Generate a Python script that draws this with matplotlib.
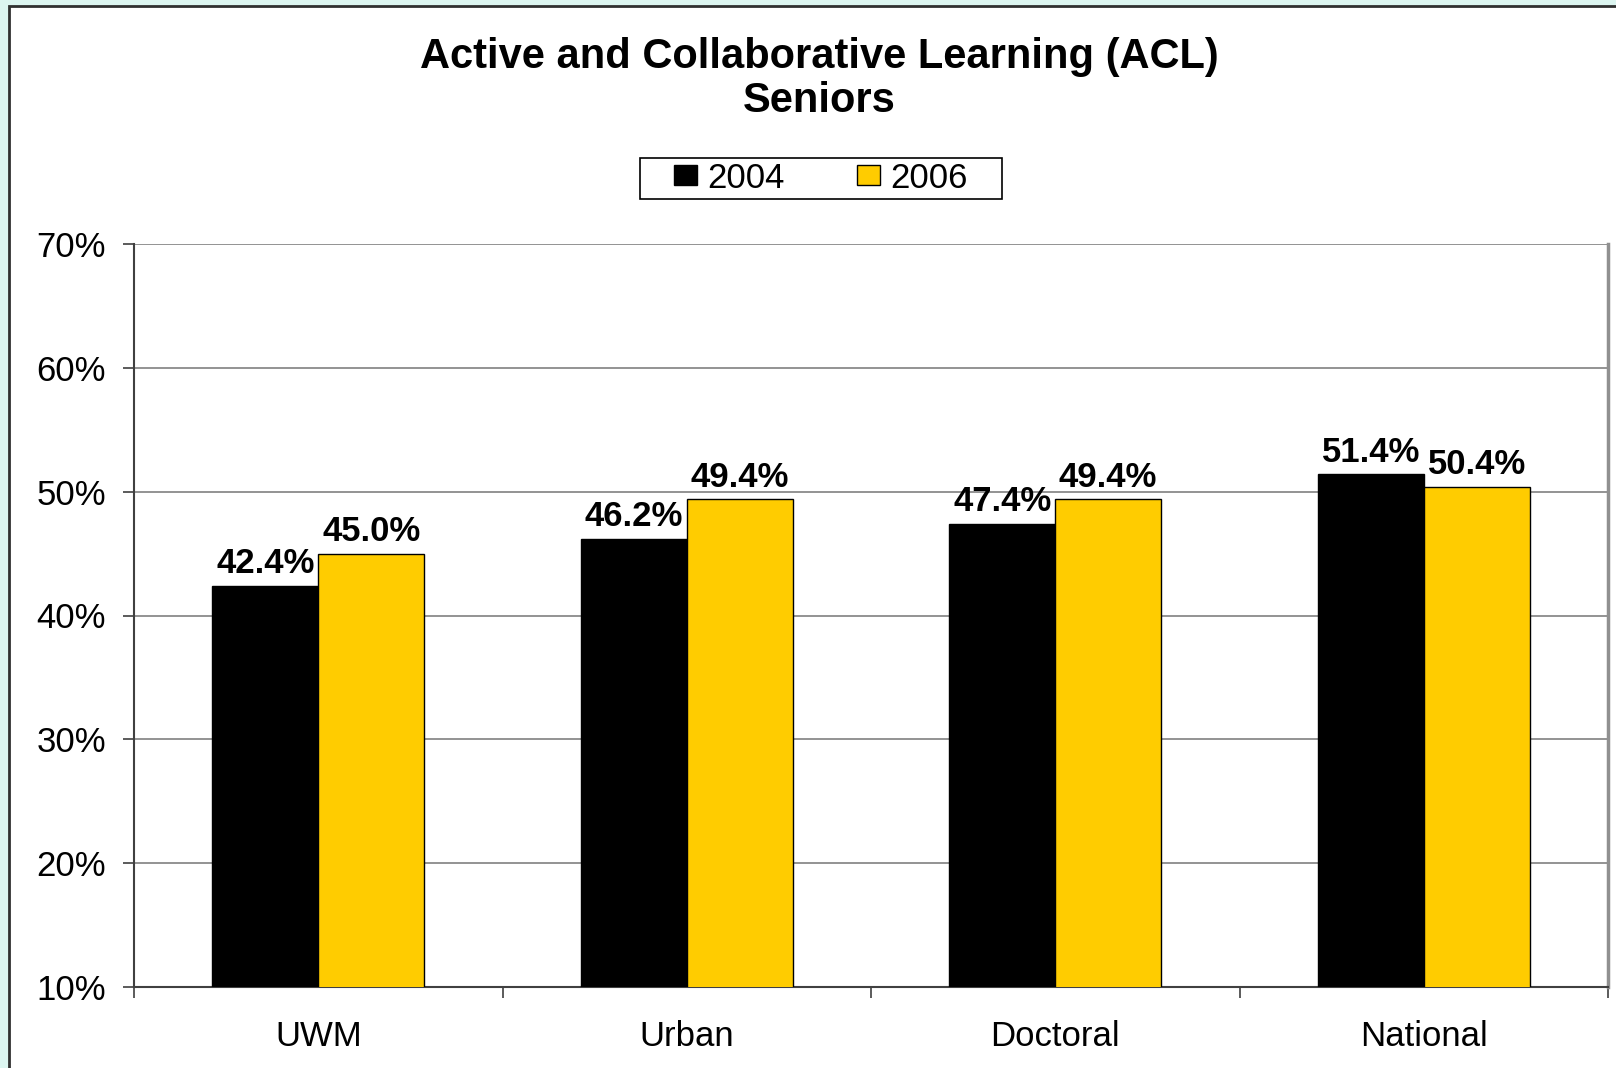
import matplotlib.pyplot as plt
import numpy as np
from matplotlib.patches import Rectangle
from matplotlib.ticker import PercentFormatter

plt.rcParams['font.family'] = ['Liberation Sans', 'DejaVu Sans']

categories = ['UWM', 'Urban', 'Doctoral', 'National']
years = ['2004', '2006']
acl_2004 = [42.4, 46.2, 47.4, 51.4]
acl_2006 = [45.0, 49.4, 49.4, 50.4]

W, H = 1616, 1068
fig = plt.figure(figsize=(W / 100, H / 100), dpi=100)
fig.patch.set_facecolor('#dcf5f0')

# white chart area with dark frame (runs off the right and bottom edges)
frame = Rectangle((9 / W, -0.1), 1.2, 0.1 + 1 - 6 / H, transform=fig.transFigure,
                  facecolor='white', edgecolor='#303030', linewidth=2, zorder=-5)
fig.patches.append(frame)

ax = fig.add_axes([134 / W, 81 / H, (1608 - 134) / W, (987 - 244) / H])
ax.set_facecolor('white')

x = np.arange(len(categories))
w = 0.287
b1 = ax.bar(x - w / 2, acl_2004, w, color='black', edgecolor='black', linewidth=1, label=years[0], zorder=3)
b2 = ax.bar(x + w / 2, acl_2006, w, color='#ffcc00', edgecolor='black', linewidth=1, label=years[1], zorder=3)

for bars, vals in ((b1, acl_2004), (b2, acl_2006)):
    for r, v in zip(bars, vals):
        ax.annotate('%.1f%%' % v, (r.get_x() + r.get_width() / 2, r.get_height()),
                    xytext=(0, 4), textcoords='offset points', ha='center', va='bottom',
                    fontsize=25, fontweight='bold', zorder=4)

ax.set_ylim(10, 70)
ax.set_xlim(-0.5, len(categories) - 0.5)
ax.set_yticks(np.arange(10, 71, 10))
ax.yaxis.set_major_formatter(PercentFormatter(decimals=0))
ax.grid(axis='y', color='#808080', linewidth=1.2, zorder=1)
ax.set_axisbelow(True)

ax.set_xticks(x)
ax.set_xticklabels(categories)
ax.set_xticks(np.arange(-0.5, len(categories)), minor=True)
ax.tick_params(axis='x', which='major', length=0, pad=24, labelsize=25)
ax.tick_params(axis='x', which='minor', length=8, width=1.2, color='#404040', direction='out')
ax.tick_params(axis='y', length=8, width=1.2, color='#404040', pad=12, labelsize=25)

ax.spines['top'].set_visible(False)
ax.spines['left'].set_color('#404040')
ax.spines['left'].set_linewidth(1.5)
ax.spines['bottom'].set_color('#404040')
ax.spines['bottom'].set_linewidth(1.5)
ax.spines['right'].set_color('#909090')
ax.spines['right'].set_linewidth(2.5)

fig.text(0.507, 1 - 57 / H, 'Active and Collaborative Learning (ACL)', ha='center', va='center',
         fontsize=30, fontweight='bold')
fig.text(0.507, 1 - 101 / H, 'Seniors', ha='center', va='center', fontsize=30, fontweight='bold')

leg = fig.legend(handles=[b1, b2], labels=years, loc='center', bbox_to_anchor=(0.508, 1 - 178 / H),
                 ncol=2, fontsize=25, frameon=False,
                 handlelength=0.66, handleheight=0.52, handletextpad=0.3, columnspacing=2.1,
                 borderpad=0.0)

# legend box drawn by hand for wider side padding
fig.canvas.draw()
bb = leg.get_window_extent()
fig.patches.append(Rectangle((bb.x0 - 34, bb.y0 - 4), bb.width + 68, bb.height + 8,
                             transform=None, facecolor='white', edgecolor='black',
                             linewidth=1.2, zorder=-1))

plt.savefig('out.png', dpi=100, facecolor=fig.get_facecolor())
